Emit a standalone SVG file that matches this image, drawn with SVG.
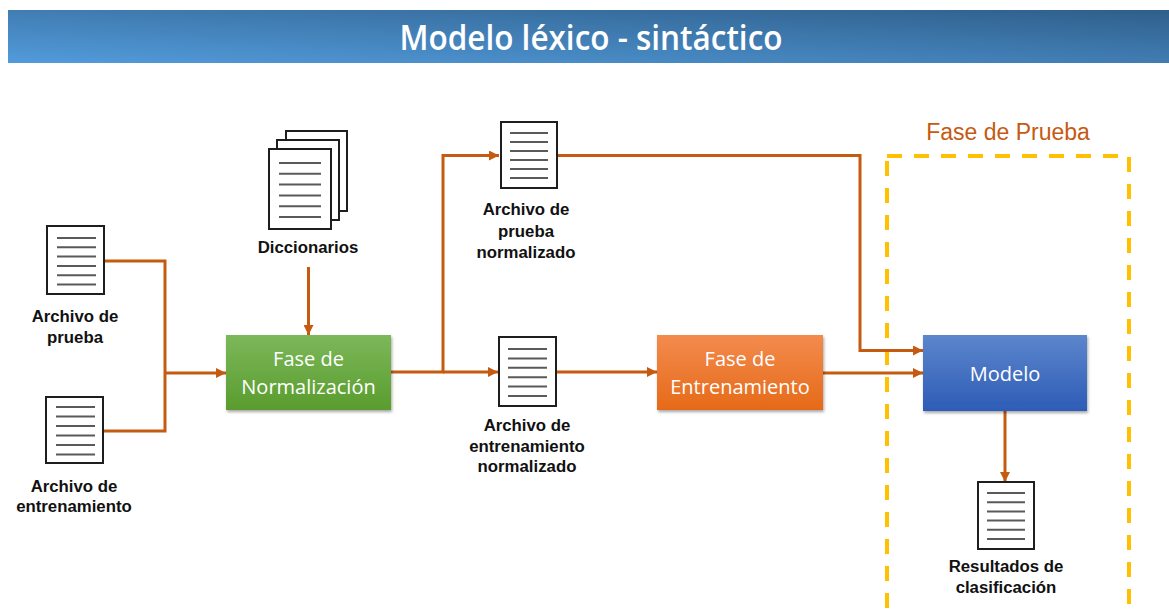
<svg xmlns="http://www.w3.org/2000/svg" width="1169" height="611" viewBox="0 0 1169 611">
<defs>
<style>
.doc{fill:#fff;stroke:#1e1e1e;stroke-width:2}
.ln{stroke:#5a5a5a;stroke-width:2}
.lbl{font-family:"Liberation Sans",Arial,sans-serif;font-weight:bold;font-size:16.8px;fill:#111;text-anchor:middle}
.btx{font-family:"Open Sans","Noto Sans",sans-serif;font-size:20px;fill:#fff;text-anchor:middle}
.conn{fill:none;stroke:#c55a11;stroke-width:3}
.arr{marker-end:url(#ah)}
</style>
<linearGradient id="gTitle" x1="0" y1="1" x2="1" y2="0">
<stop offset="0" stop-color="#529bdb"/>
<stop offset="1" stop-color="#2f5f8b"/>
</linearGradient>
<linearGradient id="gGreen" x1="0" y1="0" x2="0" y2="1">
<stop offset="0" stop-color="#7cb85a"/>
<stop offset="1" stop-color="#5a9c2e"/>
</linearGradient>
<linearGradient id="gOrange" x1="0" y1="0" x2="0" y2="1">
<stop offset="0" stop-color="#f38b4e"/>
<stop offset="1" stop-color="#e66a18"/>
</linearGradient>
<linearGradient id="gBlue" x1="0" y1="0" x2="0" y2="1">
<stop offset="0" stop-color="#5c86cc"/>
<stop offset="1" stop-color="#2e5cb6"/>
</linearGradient>
<filter id="sh" x="-10%" y="-10%" width="125%" height="130%">
<feDropShadow dx="1" dy="2" stdDeviation="1.5" flood-color="#000" flood-opacity="0.35"/>
</filter>
<marker id="ah" viewBox="0 0 10 10" refX="10" refY="5" markerWidth="11" markerHeight="10" markerUnits="userSpaceOnUse" orient="auto">
<path d="M0,0 L10,5 L0,10 z" fill="#c55a11"/>
</marker>
</defs>

<g id="title">
<rect x="8" y="10" width="1161" height="53" fill="url(#gTitle)"/>
<text x="591" y="50" font-family="'Open Sans','Noto Sans',sans-serif" font-weight="600" font-size="34" fill="#fff" text-anchor="middle" textLength="383" lengthAdjust="spacingAndGlyphs">Modelo léxico - sintáctico</text>
</g>

<g id="fase-prueba">
<rect x="887" y="156" width="242" height="470" fill="none" stroke="#ffc000" stroke-width="4" stroke-dasharray="15 12"/>
<text x="1008" y="140" font-family="'Liberation Sans',Arial,sans-serif" font-size="23" fill="#c55a11" text-anchor="middle">Fase de Prueba</text>
</g>

<g id="connectors">
<path class="conn" d="M104,261 H165 V373"/>
<path class="conn" d="M104,431 H165 V373"/>
<path class="conn arr" d="M165,373 H226"/>
<path class="conn arr" d="M308.5,267 V335"/>
<path class="conn arr" d="M391,372 H443 V155.5 H499"/>
<path class="conn arr" d="M443,372 H498"/>
<path class="conn arr" d="M556,372 H657"/>
<path class="conn arr" d="M557,155.5 H860 V350.5 H923"/>
<path class="conn arr" d="M823,373 H923"/>
<path class="conn arr" d="M1005,411 V482"/>
</g>

<g id="doc-archivo-prueba">
<rect class="doc" x="47" y="226" width="57" height="68"/>
<path class="ln" d="M57,238H96M57,247.3H96M57,256.6H96M57,265.9H96M57,275.2H96M57,284.5H96"/>
<text class="lbl" x="75" y="322">Archivo de</text>
<text class="lbl" x="75" y="343">prueba</text>
</g>

<g id="doc-archivo-entrenamiento">
<rect class="doc" x="46" y="397" width="57" height="66"/>
<path class="ln" d="M56,407H95M56,416.5H95M56,426H95M56,435.5H95M56,445H95M56,454.5H95"/>
<text class="lbl" x="74" y="492">Archivo de</text>
<text class="lbl" x="74" y="512">entrenamiento</text>
</g>

<g id="doc-diccionarios">
<rect class="doc" x="286" y="131" width="61" height="80"/>
<rect class="doc" x="277" y="140" width="62" height="80"/>
<rect class="doc" x="269" y="149" width="62" height="80"/>
<path class="ln" d="M279,163H321M279,173.8H321M279,184.6H321M279,195.4H321M279,206.2H321M279,217H321"/>
<text class="lbl" x="308" y="253">Diccionarios</text>
</g>

<g id="fase-normalizacion">
<rect x="226" y="335" width="165" height="75" fill="url(#gGreen)" filter="url(#sh)"/>
<text class="btx" x="308.5" y="366">Fase de</text>
<text class="btx" x="308.5" y="394">Normalización</text>
</g>

<g id="doc-prueba-normalizado">
<rect class="doc" x="501" y="122" width="56" height="66"/>
<path class="ln" d="M510,133H548M510,142H548M510,151H548M510,160H548M510,169H548M510,178H548"/>
<text class="lbl" x="526" y="215">Archivo de</text>
<text class="lbl" x="526" y="237">prueba</text>
<text class="lbl" x="526" y="258">normalizado</text>
</g>

<g id="doc-entrenamiento-normalizado">
<rect class="doc" x="499" y="337" width="57" height="69"/>
<path class="ln" d="M508,349H547M508,358.4H547M508,367.8H547M508,377.2H547M508,386.6H547M508,396H547"/>
<text class="lbl" x="527" y="431">Archivo de</text>
<text class="lbl" x="527" y="452">entrenamiento</text>
<text class="lbl" x="527" y="472">normalizado</text>
</g>

<g id="fase-entrenamiento">
<rect x="657" y="335" width="166" height="75" fill="url(#gOrange)" filter="url(#sh)"/>
<text class="btx" x="740" y="366">Fase de</text>
<text class="btx" x="740" y="393.5">Entrenamiento</text>
</g>

<g id="modelo">
<rect x="923" y="335" width="164" height="76" fill="url(#gBlue)" filter="url(#sh)"/>
<text class="btx" x="1005" y="380.5">Modelo</text>
</g>

<g id="doc-resultados">
<rect class="doc" x="978" y="482" width="56" height="67"/>
<path class="ln" d="M987,493H1025M987,502.2H1025M987,511.4H1025M987,520.6H1025M987,529.8H1025M987,539H1025"/>
<text class="lbl" x="1006" y="572">Resultados de</text>
<text class="lbl" x="1006" y="593">clasificación</text>
</g>
</svg>
